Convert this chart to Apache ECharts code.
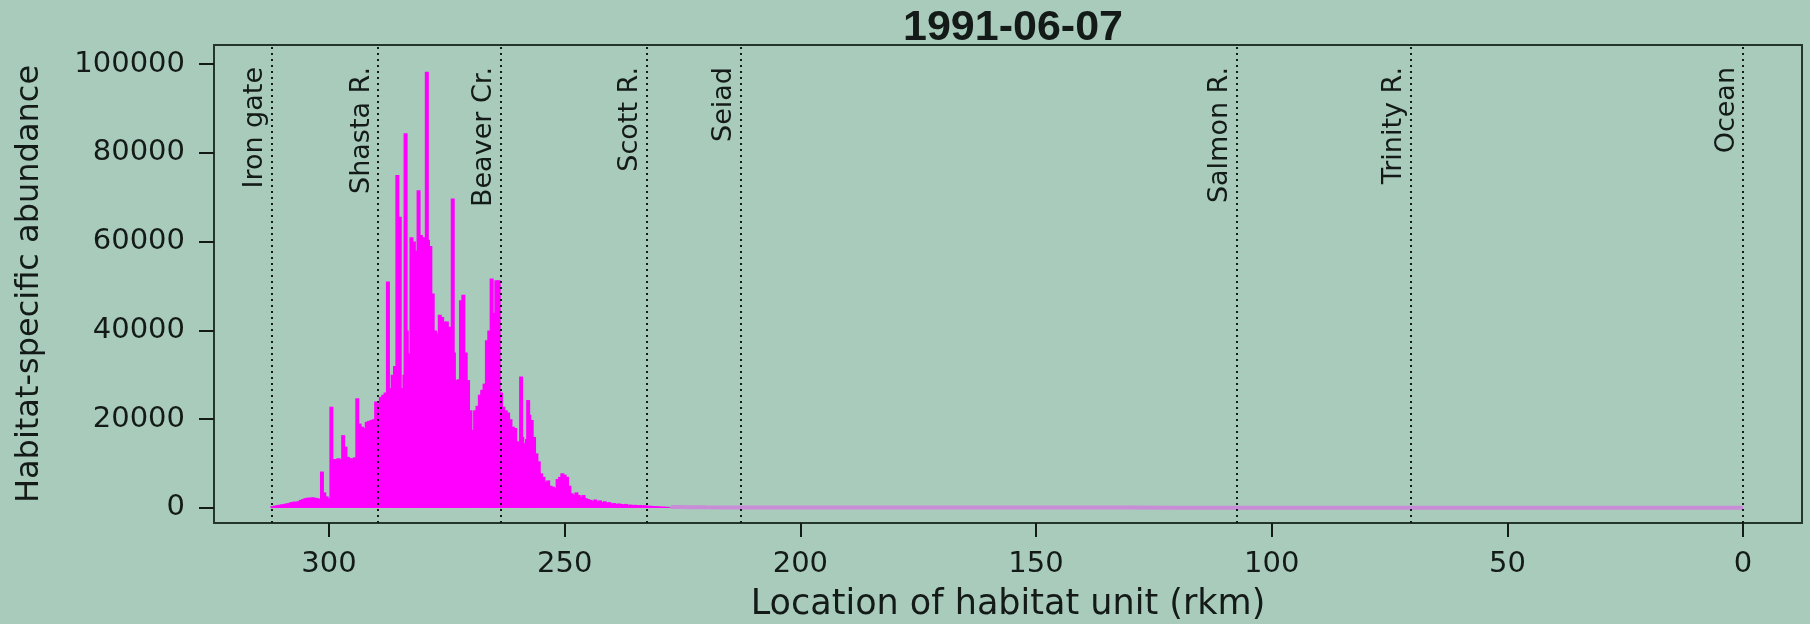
<!DOCTYPE html>
<html>
<head>
<meta charset="utf-8">
<title>1991-06-07</title>
<script src="https://cdn.jsdelivr.net/npm/echarts@6.0.0/dist/echarts.min.js"></script>
<style>
    html, body { margin: 0; padding: 0; background: #a8cbbc; }
    #main { width: 1810px; height: 624px; }
</style>
</head>
<body>
<div id="main"></div>
<script>
// habitat units with fish (river km, downstream from Iron Gate)
var rkm = [
    312.0, 311.5, 311.0, 310.5, 310.0, 309.5, 309.0, 308.5, 308.0, 307.5,
    307.0, 306.5, 306.0, 305.5, 305.0, 304.5, 304.0, 303.5, 303.0, 302.5,
    302.0, 301.5, 301.0, 300.5, 300.0, 299.5, 299.0, 298.5, 298.0, 297.5,
    297.0, 296.5, 296.0, 295.5, 295.0, 294.5, 294.0, 293.5, 293.0, 292.5,
    292.0, 291.5, 291.0, 290.5, 290.0, 289.5, 289.0, 288.5, 288.0, 287.5,
    287.0, 286.5, 286.0, 285.5, 285.0, 284.5, 284.0, 283.75, 283.5, 283.0, 282.5,
    282.0, 281.5, 281.0, 280.5, 280.0, 279.5, 279.25, 279.0, 278.5, 278.0,
    277.5, 277.0, 276.5, 276.0, 275.5, 275.0, 274.5, 274.0, 273.75, 273.5,
    273.0, 272.5, 272.0, 271.5, 271.0, 270.5, 270.0, 269.5, 269.0, 268.5,
    268.0, 267.5, 267.0, 266.5, 266.0, 265.5, 265.0, 264.5, 264.0, 263.5,
    263.0, 262.5, 262.0, 261.5, 261.0, 260.5, 260.0, 259.5, 259.25, 259.0,
    258.5, 258.0, 257.75, 257.5, 257.0, 256.5, 256.0, 255.5, 255.0, 254.5,
    254.0, 253.5, 253.0, 252.5, 252.0, 251.5, 251.0, 250.5, 250.0, 249.5,
    249.0, 248.5, 248.0, 247.5, 247.0, 246.5, 246.0, 245.5, 245.0, 244.5,
    244.0, 243.5, 243.0, 242.5, 242.0, 241.5, 241.0, 240.5, 240.0, 239.5,
    239.0, 238.5, 238.0, 237.5, 237.0, 236.5, 236.0, 235.5, 235.0, 234.5,
    234.0, 233.5, 233.0, 232.5, 232.0, 231.5, 231.0, 230.5, 230.0, 229.5,
    229.0, 228.5, 228.0
];
var abundance = [
    400, 500, 600, 700, 800, 900, 1000, 1100, 1300, 1400,
    1400, 1500, 1800, 2000, 2200, 2300, 2300, 2400, 2300, 2200,
    2000, 8200, 3500, 2600, 2200, 22800, 11000, 11000, 11200, 11000,
    16400, 13800, 11500, 11200, 11200, 11400, 24700, 19000, 18300, 18000,
    19400, 19600, 19800, 20000, 24000, 23500, 25000, 25500, 26000, 51000,
    27000, 30000, 32000, 75000, 65600, 27000, 30000, 84400, 40000, 34800, 61000,
    60000, 58000, 71600, 61500, 61000, 60000, 98300, 60400, 59000, 48300,
    40000, 39300, 43500, 43000, 42000, 42000, 40800, 40500, 69700, 35000,
    28800, 29000, 46800, 48000, 35000, 28800, 22000, 17600, 22000, 23000,
    25500, 26600, 28000, 37800, 40000, 51700, 44000, 51300, 51300, 26000,
    22800, 22000, 21500, 20000, 18300, 18000, 15000, 13800, 29600, 16000,
    14600, 15500, 24300, 21000, 19800, 16000, 12300, 10500, 7800, 7000,
    5900, 6200, 5000, 4800, 4500, 6500, 7000, 7800, 7500, 7000,
    5000, 3300, 3000, 3500, 2900, 2500, 2900, 2200, 2000, 1800,
    1600, 1900, 1500, 1700, 1300, 1500, 1200, 1300, 1000, 1100,
    900, 1000, 900, 800, 900, 700, 750, 650, 700, 600,
    650, 550, 600, 500, 500, 450, 400, 400, 350, 300,
    300, 250, 250
];
// near-empty units further downstream
var tailRkm = [227.5, 225, 222.5, 220, 215, 210, 200, 190, 180, 170, 160, 150, 140, 130, 120, 110, 100, 90, 80, 70, 60, 50, 40, 30, 20, 10, 0];
var tailAbundance = [220, 180, 150, 130, 110, 100, 90, 90, 80, 80, 80, 70, 70, 70, 60, 60, 60, 60, 50, 50, 50, 50, 40, 40, 40, 40, 40];

// landmarks drawn as dotted verticals
var landmarkNames = ['Iron gate', 'Shasta R.', 'Beaver Cr.', 'Scott R.', 'Seiad', 'Salmon R.', 'Trinity R.', 'Ocean'];
var landmarkRkm = [312.1, 289.6, 263.6, 232.6, 212.6, 107.5, 70.5, 0];

var xTicks = [0, 50, 100, 150, 200, 250, 300];
var yTicks = [0, 20000, 40000, 60000, 80000, 100000];

var ink = '#131a17';
var fontName = 'DejaVu Sans';

var barData = [];
for (var i = 0; i < rkm.length; i++) {
    barData.push([rkm[i], abundance[i]]);
}
var tailData = [];
for (var j = 0; j < tailRkm.length; j++) {
    tailData.push([tailRkm[j], tailAbundance[j]]);
}
var marks = [];
for (var k = 0; k < landmarkNames.length; k++) {
    marks.push({ name: landmarkNames[k], xAxis: landmarkRkm[k] });
}

var chart = echarts.init(document.getElementById('main'), null, { renderer: 'canvas' });

var option = {
    backgroundColor: '#a8cbbc',
    animation: false,
    title: {
        text: '1991-06-07',
        left: 1008,
        textAlign: 'center',
        top: 2,
        textStyle: {
            fontFamily: 'Liberation Sans',
            fontWeight: 'bold',
            fontSize: 43,
            color: ink
        }
    },
    grid: {
        left: 214,
        right: 8,
        top: 45,
        bottom: 101,
        show: true,
        borderColor: '#23352d',
        borderWidth: 2,
        backgroundColor: 'transparent',
        outerBoundsMode: 'none'
    },
    xAxis: {
        type: 'value',
        inverse: true,
        min: -12.5,
        max: 324.4,
        name: 'Location of habitat unit (rkm)',
        nameLocation: 'middle',
        nameGap: 64,
        nameTextStyle: { fontFamily: fontName, fontSize: 35, color: ink },
        axisLine: { show: false, onZero: false },
        splitLine: { show: false },
        axisTick: {
            show: true,
            length: 14,
            customValues: xTicks,
            lineStyle: { color: ink, width: 2 }
        },
        axisLabel: {
            customValues: xTicks,
            margin: 27,
            fontFamily: fontName,
            fontSize: 29,
            color: ink,
            formatter: function (v) { return String(v); }
        }
    },
    yAxis: {
        type: 'value',
        min: -3400,
        max: 104300,
        name: 'Habitat-specific abundance',
        nameLocation: 'middle',
        nameGap: 168,
        nameTextStyle: { fontFamily: fontName, fontSize: 32, color: ink },
        axisLine: { show: false, onZero: false },
        splitLine: { show: false },
        axisTick: {
            show: true,
            length: 15,
            customValues: yTicks,
            lineStyle: { color: ink, width: 2 }
        },
        axisLabel: {
            customValues: yTicks,
            margin: 29,
            fontFamily: fontName,
            fontSize: 29,
            color: ink,
            formatter: function (v) { return String(v); }
        }
    },
    series: [
        {
            name: 'abundance',
            type: 'bar',
            barWidth: 4,
            data: barData,
            itemStyle: { color: '#ff00ff' }
        },
        {
            name: 'tail',
            type: 'line',
            data: tailData,
            showSymbol: false,
            z: 3,
            lineStyle: { color: '#c98cd6', width: 4 },
            markLine: {
                silent: true,
                symbol: ['none', 'none'],
                lineStyle: { color: ink, width: 2, type: [2, 4] },
                label: {
                    show: true,
                    position: 'insideEndTop',
                    formatter: '{b}',
                    distance: [22, 3],
                    fontFamily: fontName,
                    fontSize: 27,
                    color: ink
                },
                data: marks
            }
        }
    ]
};

chart.setOption(option);
</script>
</body>
</html>
